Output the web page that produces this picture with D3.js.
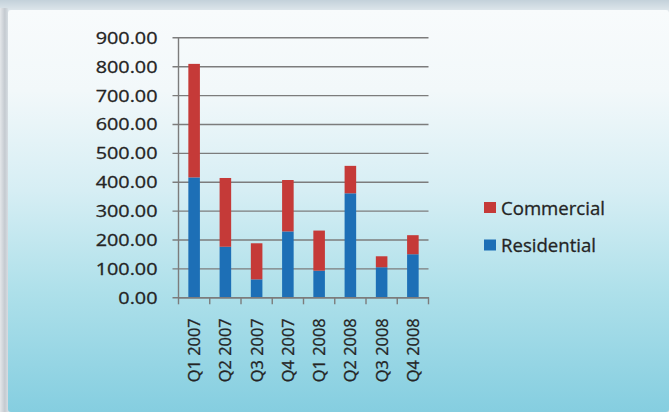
<!DOCTYPE html>
<html>
<head>
<meta charset="utf-8">
<script src="https://cdn.jsdelivr.net/npm/d3@7"></script>
<style>
  html, body { margin: 0; padding: 0; background: #ffffff; }
  svg { display: block; }
  text { font-family: "Open Sans", "Noto Sans", sans-serif; fill: #242424; stroke: #242424; stroke-width: 0.3px; }
</style>
</head>
<body>
<svg id="chart" width="669" height="412"></svg>
<script>
// Quarterly values by segment
const categories = ["Q1 2007", "Q2 2007", "Q3 2007", "Q4 2007", "Q1 2008", "Q2 2008", "Q3 2008", "Q4 2008"];
const residential = [415, 175, 62, 228, 92, 360, 104, 149];
const commercial  = [393, 238, 125, 178, 139, 95, 38, 66];
const yTickValues = [0, 100, 200, 300, 400, 500, 600, 700, 800, 900];
const seriesNames = ["Residential", "Commercial"];
const seriesColors = { Residential: "#1d6fb6", Commercial: "#c53a38" };

const W = 669, H = 412;
const svg = d3.select("#chart");
const defs = svg.append("defs");

// Frame: grey band on top and left, gradient panel behind the chart
const topBand = defs.append("linearGradient").attr("id", "topBand")
  .attr("x1", 0).attr("y1", 0).attr("x2", 0).attr("y2", 1);
topBand.append("stop").attr("offset", 0).attr("stop-color", "#c3d1da");
topBand.append("stop").attr("offset", 1).attr("stop-color", "#dfe7ec");

const leftBand = defs.append("linearGradient").attr("id", "leftBand")
  .attr("x1", 0).attr("y1", 0).attr("x2", 1).attr("y2", 0);
leftBand.append("stop").attr("offset", 0).attr("stop-color", "#e4e7ea");
leftBand.append("stop").attr("offset", 0.6).attr("stop-color", "#c4cad0");
leftBand.append("stop").attr("offset", 1).attr("stop-color", "#d6dde2");

const panel = defs.append("linearGradient").attr("id", "panel")
  .attr("x1", 0).attr("y1", 0).attr("x2", 0).attr("y2", 1);
[[0, "#f8fbfc"], [0.2, "#f2f8fa"], [0.45, "#d6eef4"], [0.7, "#aee0ea"], [1, "#85cee0"]]
  .forEach(([o, c]) => panel.append("stop").attr("offset", o).attr("stop-color", c));

svg.append("rect").attr("x", 0).attr("y", 0).attr("width", W).attr("height", H).attr("fill", "#d4dce2");
svg.append("rect").attr("x", 0).attr("y", 0).attr("width", W).attr("height", 11).attr("fill", "url(#topBand)");
svg.append("rect").attr("x", 0).attr("y", 8).attr("width", 8).attr("height", H).attr("fill", "url(#leftBand)");
svg.append("rect").attr("x", 8).attr("y", 10).attr("width", W - 8).attr("height", H - 10)
  .attr("rx", 3).attr("fill", "url(#panel)");

// Scales
const plot = { left: 178.5, right: 428.5, top: 37.3, bottom: 297.3 };
const x = d3.scaleBand().domain(categories)
  .range([plot.left, plot.right]).paddingInner(0.63).paddingOuter(0.315);
const y = d3.scaleLinear().domain([0, 900]).range([plot.bottom, plot.top]);

const gridColor = "#7c7c7c";

// Horizontal gridlines with small outward ticks
const yAxis = d3.axisLeft(y).tickValues(yTickValues)
  .tickSize(-(plot.right - plot.left)).tickFormat(d3.format(".2f")).tickPadding(0);
const gy = svg.append("g").attr("transform", `translate(${plot.left},0)`).call(yAxis);
gy.select(".domain").remove();
gy.selectAll(".tick line").attr("x1", -6).attr("stroke", gridColor).attr("stroke-width", 1.4);
gy.selectAll(".tick text")
  .attr("x", 0).attr("dy", "0.36em")
  .attr("transform", "translate(-21,0) scale(1.2,1)")
  .style("font-size", "16.5px").style("font-family", "'Open Sans', sans-serif")
  .attr("fill", "#242424");

// Stacked bars
const rows = categories.map((c, i) => ({ category: c, Residential: residential[i], Commercial: commercial[i] }));
const stacked = d3.stack().keys(seriesNames)(rows);

svg.append("g").selectAll("g").data(stacked).join("g")
  .attr("fill", d => seriesColors[d.key])
  .selectAll("rect").data(d => d).join("rect")
  .attr("x", d => x(d.data.category))
  .attr("width", x.bandwidth())
  .attr("y", d => y(d[1]))
  .attr("height", d => y(d[0]) - y(d[1]));

// Axis lines
svg.append("line").attr("x1", plot.left).attr("x2", plot.left)
  .attr("y1", plot.top).attr("y2", plot.bottom)
  .attr("stroke", gridColor).attr("stroke-width", 1.4);

const xAxis = d3.axisBottom(x).tickSize(0).tickPadding(0);
const gx = svg.append("g").attr("transform", `translate(0,${plot.bottom})`).call(xAxis);
gx.select(".domain").attr("stroke", gridColor).attr("stroke-width", 1.4);
gx.selectAll(".tick text")
  .attr("text-anchor", "end")
  .attr("transform", "translate(0,21) rotate(-90)")
  .attr("x", 0).attr("y", 0).attr("dy", "0.36em")
  .style("font-size", "16.4px").style("font-family", "'Open Sans', sans-serif")
  .attr("fill", "#242424");

// Category boundary ticks below the axis
const boundaries = d3.range(categories.length + 1).map(i => plot.left + i * (plot.right - plot.left) / categories.length);
svg.append("g").selectAll("line").data(boundaries).join("line")
  .attr("x1", d => d).attr("x2", d => d)
  .attr("y1", plot.bottom).attr("y2", plot.bottom + 7)
  .attr("stroke", gridColor).attr("stroke-width", 1.4);

// Legend (Commercial listed first, as stacked from the top)
const legendItems = ["Commercial", "Residential"];
const legend = svg.append("g").attr("transform", "translate(484,202)");
const li = legend.selectAll("g").data(legendItems).join("g")
  .attr("transform", (d, i) => `translate(0,${i * 37.5})`);
li.append("rect").attr("x", 0).attr("y", 0).attr("width", 12).attr("height", 11)
  .attr("fill", d => seriesColors[d]);
li.append("text").attr("x", 17).attr("y", 12.5)
  .style("font-size", "18.6px").attr("fill", "#242424").text(d => d);
</script>
</body>
</html>
